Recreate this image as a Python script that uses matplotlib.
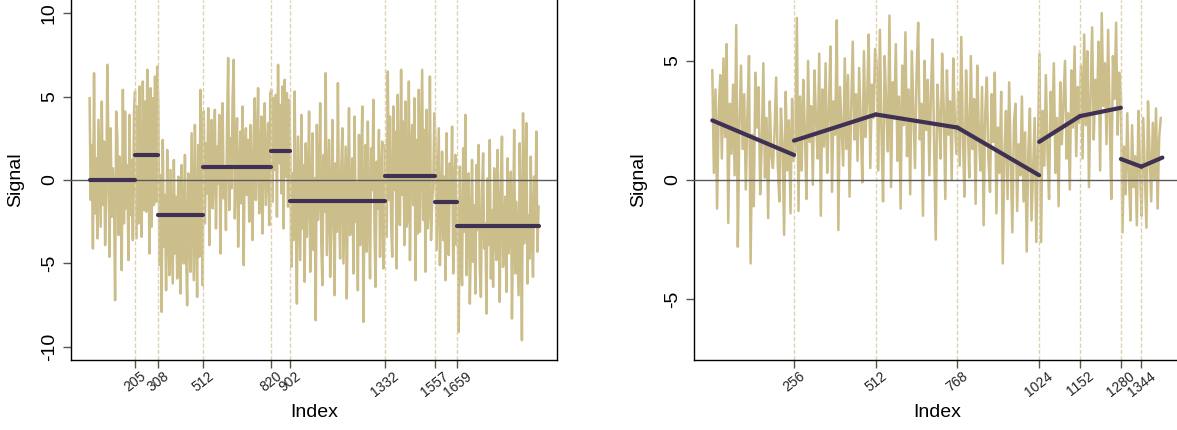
import numpy as np
import matplotlib
matplotlib.use("Agg")
import matplotlib.pyplot as plt

plt.rcParams['font.family'] = ['Liberation Sans', 'DejaVu Sans']
plt.rcParams['axes.linewidth'] = 1.0

SIGNAL_COLOR = '#CCBE8B'
FIT_COLOR = '#3F3153'
CP_COLOR = '#DCD2AC'
ZERO_COLOR = '#5A5A5A'
STEP = 5  # spacing of the stored samples along the index

# piecewise constant series (one sample every STEP indices)
left_signal = [
    # 0 - 205
    4.9, -1.2, 2.1, -4.1, 6.4, -2.0, 1.3, -3.5, 3.6, 0.4,
    -2.8, 4.7, -1.5, 2.3, -3.9, -0.8, 6.9, 1.9, -4.6, 3.1,
    -2.2, 0.7, -1.0, -7.2, 4.1, 2.6, -3.3, 1.4, -0.3, -5.4,
    5.4, -2.6, 4.1, -1.7, 0.9, -4.8, 3.9, -2.1, 1.2, -3.6,
    4.0,
    # 205 - 308
    5.3, -3.5, 4.4, -2.6, 5.6, -1.2, -3.4, 5.9, -1.8, 4.7,
    -1.9, 6.6, 2.2, -4.4, 5.5, -2.8, 4.9, -1.5, 6.2, -1.3,
    6.8,
    # 308 - 512
    4.5, -5.1, 0.3, -7.9, 2.4, -4.0, -0.9, -6.6, 1.8, -3.3,
    -5.7, 0.6, -2.9, -6.2, 1.2, -4.4, -1.0, -5.9, 0.2, -3.7,
    -6.8, 0.9, -2.4, -5.0, 1.5, -4.2, -7.5, 0.4, -3.1, -5.5,
    2.8, -1.6, -6.0, 3.3, -2.7, -7.0, 2.1, -4.6, 5.4, -1.9,
    -6.3,
    # 512 - 820
    4.1, -2.6, 2.2, -0.8, 4.3, -3.9, 1.5, 3.6, -1.7, 0.4,
    4.2, -2.9, 2.0, -0.2, 3.9, -4.4, 1.7, 4.6, -1.1, 0.8,
    -3.0, 3.2, 7.3, -1.8, 2.5, -0.5, 4.8, 7.2, -2.3, 1.1,
    3.7, -4.0, 0.2, 2.9, -1.4, 4.4, -5.1, 1.6, 3.1, -0.9,
    2.4, -2.5, 3.3, 0.5, -3.6, 2.7, 4.9, -1.2, 1.4, 5.5,
    -2.0, 0.7, 3.8, -3.2, 2.2, 4.6, -1.5, 0.9, 3.4, -2.7,
    5.2,
    # 820 - 902
    5.4, -1.3, 4.9, 0.6, 5.1, -2.2, 6.9, 1.0, 4.5, -0.8,
    5.6, -2.9, 6.0, 0.2, 5.2, -1.6, 4.8,
    # 902 - 1332
    1.8, -5.2, 0.4, -3.6, 5.3, -2.1, -7.4, 2.6, -1.0, -4.8,
    3.9, -2.9, 0.9, -6.1, 2.2, -3.4, -0.3, 4.1, -5.5, -1.6,
    2.8, -4.2, 0.1, -8.4, 3.3, -2.4, -0.7, 4.6, -3.8, -6.3,
    1.5, -1.9, 6.4, -4.5, -0.9, 2.4, -5.8, -2.6, 3.6, -1.2,
    -6.9, 1.0, -3.1, 5.8, -2.0, -4.7, 0.6, 3.1, -5.0, -1.4,
    2.0, -7.1, -0.5, 4.3, -3.3, -1.8, 1.3, -5.6, 3.8, -2.5,
    -0.2, -6.6, 2.7, -3.9, 0.8, 4.4, -8.5, -1.1, 2.1, -4.3,
    3.5, -2.2, -5.9, 1.9, -0.6, 4.8, -3.0, -6.4, 1.1, -1.7,
    3.0, -4.6, 0.3, 2.3, -5.3, -2.8,
    # 1332 - 1557
    2.1, -3.4, 6.5, -1.2, 3.8, -2.6, -4.6, 4.4, -0.6, 2.9,
    -5.3, 5.1, -2.3, -2.7, 6.6, -0.9, 3.5, -3.9, 4.7, -2.8,
    -2.2, 5.9, -4.8, 1.6, 3.3, -1.5, 4.9, -6.0, 2.4, -3.2,
    5.4, -3.1, 1.9, 6.6, -2.4, 3.0, -5.5, 4.2, -2.9, -1.8,
    6.2, -3.6, -1.3, -0.4, 4.0,
    # 1557 - 1659
    2.4, -4.2, -0.6, 3.1, -5.1, -1.9, 1.7, -3.6, 0.2, -6.0,
    2.8, -2.4, -4.5, 1.0, -1.3, 3.2, -5.6, -0.8, 1.5, -3.9,
    # 1659 - end
    -1.2, -9.1, 0.8, -4.5, -6.3, 1.9, -3.1, 3.9, -5.7, -2.0,
    0.4, -7.4, -3.6, 1.2, -4.9, -1.5, -6.8, 0.9, -3.0, 2.1,
    -5.4, -7.0, -0.7, 1.6, -4.1, -2.6, -8.0, 0.1, -3.9, 2.4,
    -5.9, -1.8, -6.4, 0.7, -3.3, -4.8, 1.8, -2.2, -7.3, -0.4,
    2.6, -5.2, -3.5, -1.0, -6.7, 1.3, -4.4, -2.4, 0.5, -8.3,
    -3.2, 3.0, -5.6, -1.3, -4.0, -6.9, 2.2, -2.9, -9.6, 4.0,
    -3.8, -0.9, 3.4, -6.2, -2.1, -4.7, 1.4, -3.4, -5.8, 0.2,
    -2.7, 2.9, -4.3, -1.6,
]
left_cps = [205, 308, 512, 820, 902, 1332, 1557, 1659]
left_end = 2027
left_levels = [0.0, 1.5, -2.07, 0.78, 1.75, -1.28, 0.26, -1.32, -2.75]

# piecewise linear series
right_signal = [
    # 0 - 256
    4.6, 0.3, 3.8, -1.2, 2.9, 4.4, 0.9, 5.1, 1.8, 5.7,
    -1.8, 3.2, 1.1, 4.0, 0.2, 6.5, -2.8, 2.4, 4.8, 1.3,
    3.6, -0.4, 2.7, 5.2, -3.5, 1.9, -1.1, 4.5, 2.2, 3.9,
    -0.6, 1.5, 4.9, 0.1, 2.6, -1.6, 3.3, 1.0, 0.5, 2.0,
    4.3, 0.7, -0.9, 3.0, 1.6, -2.3, 3.7, 0.4, 2.5, -1.4,
    3.4, 0.8,
    # 256 - 512
    1.2, 6.8, -1.3, 3.5, 0.4, 4.2, 2.1, -0.8, 5.0, 1.6,
    3.1, -0.2, 4.6, 2.5, 0.9, 5.3, -1.5, 3.8, 1.4, 4.9,
    0.3, 2.8, 5.6, -0.5, 3.3, 1.9, 6.7, -2.1, 3.9, 2.2,
    0.6, 5.1, 1.3, 4.4, -0.7, 3.0, 5.8, 1.7, 3.6, 0.8,
    4.7, 2.4, -0.1, 5.4, 1.8, 3.4, 6.1, 0.5, 4.0, 2.6,
    5.5,
    # 512 - 768
    4.9, 0.4, 6.3, 2.0, -0.9, 5.2, 3.1, 1.2, 6.9, -0.3,
    4.1, 2.6, 5.7, 0.8, 3.5, -1.2, 4.8, 2.3, 6.2, 1.0,
    3.8, -0.6, 5.4, 2.9, 0.5, 4.5, 6.6, 1.7, 3.2, -1.5,
    5.0, 2.1, 4.2, 0.2, 3.6, 5.9, 1.4, -2.5, 4.0, 2.7,
    0.9, 5.3, 3.0, -0.8, 4.6, 1.9, 3.3, 0.0, 5.1, 2.4,
    1.1,
    # 768 - 1024
    3.7, 0.6, 6.0, 1.8, -0.7, 4.6, 2.5, 0.1, 5.2, 1.3,
    3.4, -1.0, 4.8, 2.0, 0.4, 3.9, -1.9, 2.8, 4.3, 0.9,
    -0.5, 3.6, 1.6, 4.5, -1.4, 2.2, 0.3, 3.7, -3.5, 1.1,
    2.9, -0.8, 4.1, 0.7, -2.2, 2.4, 3.2, -1.3, 1.5, 0.2,
    3.5, -0.9, 2.0, -3.0, 1.2, 3.0, -1.7, 0.5, 2.6, -2.6,
    1.4,
    # 1024 - 1152
    5.3, -2.6, 2.9, 0.6, 4.4, 1.2, -0.8, 3.7, 2.0, 4.9,
    0.3, 2.6, -1.1, 4.1, 1.5, 3.3, 5.0, 0.9, 2.8, -0.4,
    4.6, 2.2, 5.6, 1.0, 3.9, 2.4,
    # 1152 - 1280
    4.8, 0.9, 6.1, 2.3, 5.4, -0.3, 3.6, 6.4, 1.7, 4.2,
    2.8, 5.8, 0.4, 7.0, 3.1, 4.9, 1.5, 6.3, 2.5, -0.8,
    5.2, 3.4, 6.6, 1.9, 4.5,
    # 1280 - 1344
    3.6, -2.2, 1.4, -0.6, 2.8, 0.2, -1.7, 2.3, -0.3, 1.0,
    -1.9, 2.9, 0.4,
    # 1344 - end
    -1.5, 2.6, 0.3, -2.0, 3.3, 1.1, -0.9, 2.4, 0.0, 3.0,
    -1.2, 1.8, 2.6,
]
right_cps = [256, 512, 768, 1024, 1152, 1280, 1344]
right_end = 1410
right_start = [2.5, 1.65, 2.75, 2.2, 1.6, 2.68, 0.88, 0.56]
right_stop = [1.05, 2.75, 2.2, 0.2, 2.68, 3.03, 0.56, 0.94]


def draw_base(ax, signal, cps, xlim, ylim, yticks):
    x = np.arange(len(signal)) * STEP
    ax.plot(x, signal, color=SIGNAL_COLOR, lw=1.8, zorder=1)
    for cp in cps:
        ax.axvline(cp, color=CP_COLOR, lw=1.0, ls=(0, (3, 1.6)), zorder=2)
    ax.axhline(0, color=ZERO_COLOR, lw=1.0, zorder=3)

    ax.set_xlim(*xlim)
    ax.set_ylim(*ylim)
    ax.set_xticks(cps)
    ax.set_xticklabels([str(c) for c in cps], rotation=38, fontsize=10,
                       ha='center', color='#222222')
    ax.set_yticks(yticks)
    ax.set_yticklabels([str(t) for t in yticks], fontsize=14,
                       rotation=90, va='center')
    ax.tick_params(axis='x', length=5.5, width=1.0, color='#555555', pad=1)
    ax.tick_params(axis='y', length=5.5, width=1.0, color='#555555', pad=4)
    ax.spines['top'].set_visible(False)

    ax.set_xlabel('Index', fontsize=14)
    ax.set_ylabel('Signal', fontsize=14)
    ax.xaxis.set_label_coords(0.5, -0.147)
    ax.xaxis.label.set_va('center')
    ax.yaxis.set_label_coords(-0.113, 0.5)
    ax.yaxis.label.set_va('center')


fig = plt.figure(figsize=(11.77, 4.30), dpi=100)
ax1 = fig.add_axes([71 / 1177, 70 / 430, 486 / 1177, 360 / 430])
ax2 = fig.add_axes([694 / 1177, 70 / 430, 486 / 1177, 360 / 430])

# left: constant level between changepoints
draw_base(ax1, left_signal, left_cps, (-83.9, 2108.2), (-10.78, 10.78),
          [-10, -5, 0, 5, 10])
edges = [0] + left_cps + [left_end]
for i, level in enumerate(left_levels):
    ax1.plot([edges[i], edges[i + 1]], [level, level], color=FIT_COLOR,
             lw=3.0, solid_capstyle='round', zorder=4)

# right: linear trend between changepoints
draw_base(ax2, right_signal, right_cps, (-57.3, 1465.2), (-7.55, 7.55),
          [-5, 0, 5])
ax2.spines['right'].set_visible(False)
edges = [0] + right_cps + [right_end]
for i in range(len(right_start)):
    ax2.plot([edges[i], edges[i + 1]], [right_start[i], right_stop[i]],
             color=FIT_COLOR, lw=3.0, solid_capstyle='round', zorder=4)

fig.savefig('out.png', dpi=100)
